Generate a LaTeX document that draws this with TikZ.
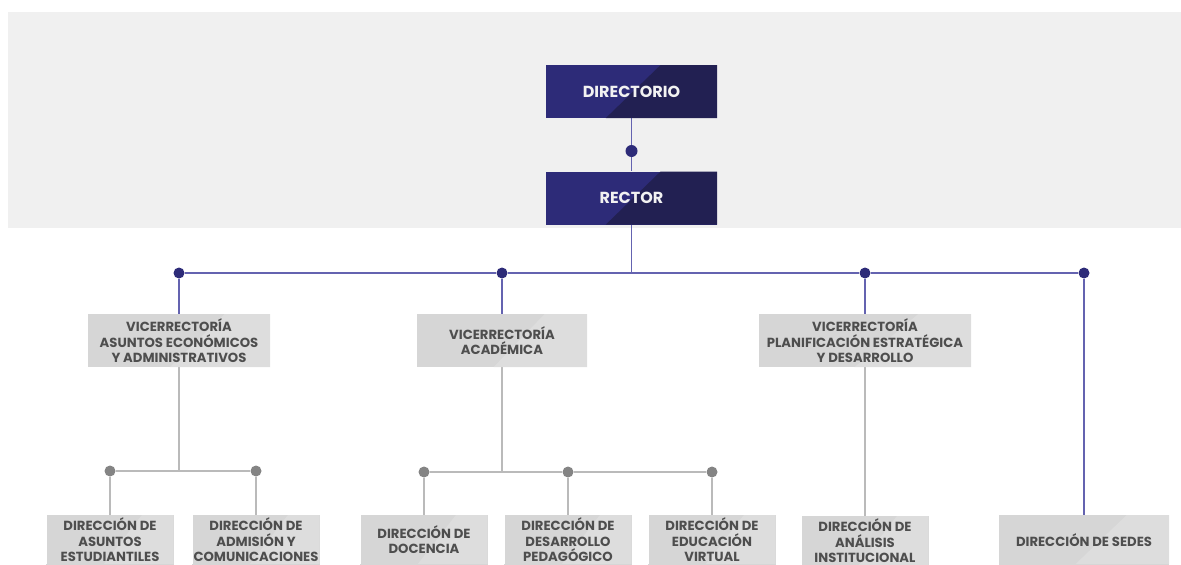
\documentclass[tikz,border=0pt]{standalone}
\usepackage{fontspec}
\setmainfont{Poppins}
\usetikzlibrary{positioning,calc,backgrounds}
\definecolor{navy}{RGB}{45,43,120}
\definecolor{navydark}{RGB}{34,32,82}
\definecolor{bandgray}{RGB}{240,240,240}
\definecolor{boxgray}{RGB}{214,214,214}
\definecolor{boxgray2}{RGB}{221,221,221}
\definecolor{textgray}{RGB}{78,78,78}
\definecolor{linkblue}{RGB}{100,99,176}
\definecolor{linkgray}{RGB}{186,186,186}
\definecolor{dotgray}{RGB}{132,132,132}
\tikzset{headnode/.style={rectangle, fill=navy, minimum width=171pt, minimum height=53pt,
font=\bfseries\fontsize{16}{18}\selectfont, text=white!90!gray,
path picture={\fill[navydark]
 ($(path picture bounding box.south west)!0.35!(path picture bounding box.south east)$) --
 ($(path picture bounding box.north west)!0.67!(path picture bounding box.north east)$) --
 (path picture bounding box.north east) -- (path picture bounding box.south east) -- cycle;}},
graybox/.style={rectangle, fill=boxgray, text=textgray, align=center, inner sep=0pt,
font=\bfseries\fontsize{13.2}{15.2}\selectfont,
path picture={\fill[boxgray2]
 ($(path picture bounding box.south west)!0.45!(path picture bounding box.south east)$) --
 ($(path picture bounding box.north west)!0.75!(path picture bounding box.north east)$) --
 (path picture bounding box.north east) -- (path picture bounding box.south east) -- cycle;}},
vicenode/.style={graybox, minimum height=53pt},
dirnode/.style={graybox, minimum width=127pt, minimum height=49pt},
bluedot/.style={circle, fill=navy, minimum size=11pt, inner sep=0pt},
graydot/.style={circle, fill=dotgray, minimum size=11pt, inner sep=0pt},
bluelink/.style={draw=linkblue, line width=1.8pt},
graylink/.style={draw=linkgray, line width=1.7pt}}

\begin{document}
\begin{tikzpicture}[x=1pt,y=-1pt]
\clip (0,0) rectangle (1181,565);

% top
\node(DIR) [headnode] at (631.5,91.5) {DIRECTORIO};
\node(d0) [bluedot, minimum size=12pt] at (631.5,151) {};
\node(REC) [headnode] at (631.5,198) {RECTOR};

% bus
\node(d1) [bluedot] at (179,273) {};
\node(d2) [bluedot] at (502,273) {};
\node(d3) [bluedot] at (865,273) {};
\node(d4) [bluedot] at (1084,273) {};
\coordinate(busR) at (REC |- d1);

% vicerrectorias
\node(VA) [vicenode, minimum width=182pt, anchor=north] at (179,314)
  {VICERRECTORÍA\\ASUNTOS ECONÓMICOS\\Y ADMINISTRATIVOS};
\node(VAc) [vicenode, minimum width=170pt, anchor=north] at (502,314)
  {VICERRECTORÍA\\ACADÉMICA};
\node(VP) [vicenode, minimum width=212pt, anchor=north] at (865,314)
  {VICERRECTORÍA\\PLANIFICACIÓN ESTRATÉGICA\\Y DESARROLLO};

% gray junctions
\node(ga1) [graydot] at (110,471) {};
\node(ga2) [graydot] at (256,471) {};
\coordinate(jA) at (VA |- ga1);
\node(gb1) [graydot] at (424,472) {};
\node(gb2) [graydot] at (568,472) {};
\node(gb3) [graydot] at (712,472) {};
\coordinate(jB) at (VAc |- gb1);

% direcciones
\node(DAE) [dirnode, anchor=north] at (110,515) {DIRECCIÓN DE\\ASUNTOS\\ESTUDIANTILES};
\node(DAC) [dirnode, anchor=north] at (256,515) {DIRECCIÓN DE\\ADMISIÓN Y\\COMUNICACIONES};
\node(DD) [dirnode, anchor=north] at (424,515) {DIRECCIÓN DE\\DOCENCIA};
\node(DDP) [dirnode, anchor=north] at (568,515) {DIRECCIÓN DE\\DESARROLLO\\PEDAGÓGICO};
\node(DEV) [dirnode, anchor=north] at (712,515) {DIRECCIÓN DE\\EDUCACIÓN\\VIRTUAL};
\node(DAI) [dirnode, anchor=north] at (865,516) {DIRECCIÓN DE\\ANÁLISIS\\INSTITUCIONAL};
\node(DS) [dirnode, minimum width=170pt, anchor=north] at (1084,515) {DIRECCIÓN DE SEDES};
% box bottoms run past the edge
\begin{scope}[on background layer]
\foreach \n in {DAE,DAC,DD,DDP,DEV,DAI,DS}
  \fill[boxgray] (\n.south west) rectangle ([yshift=-20pt]\n.south east);
\end{scope}

\begin{scope}[on background layer]
\fill[bandgray] (8,12) rectangle (1181,228);
\draw[bluelink]
(DIR)
   --
(d0);
\draw[bluelink]
(d0)
   --
(REC);
\draw[bluelink]
(REC)
   --
(busR);
\draw[bluelink]
(d1)
   --
(d2);
\draw[bluelink]
(d2)
   --
(d3);
\draw[bluelink]
(d3)
   --
(d4);
\draw[bluelink]
(d1)
   --
(VA);
\draw[bluelink]
(d2)
   --
(VAc);
\draw[bluelink]
(d3)
   --
(VP);
\draw[bluelink]
(d4)
   --
(DS);
\draw[graylink]
(VA)
   --
(jA);
\draw[graylink]
(ga1)
   --
(ga2);
\draw[graylink]
(ga1)
   --
(DAE);
\draw[graylink]
(ga2)
   --
(DAC);
\draw[graylink]
(VAc)
   --
(jB);
\draw[graylink]
(gb1)
   --
(gb2);
\draw[graylink]
(gb2)
   --
(gb3);
\draw[graylink]
(gb1)
   --
(DD);
\draw[graylink]
(gb2)
   --
(DDP);
\draw[graylink]
(gb3)
   --
(DEV);
\draw[graylink]
(VP)
   --
(DAI);
\end{scope}
\end{tikzpicture}
\end{document}
